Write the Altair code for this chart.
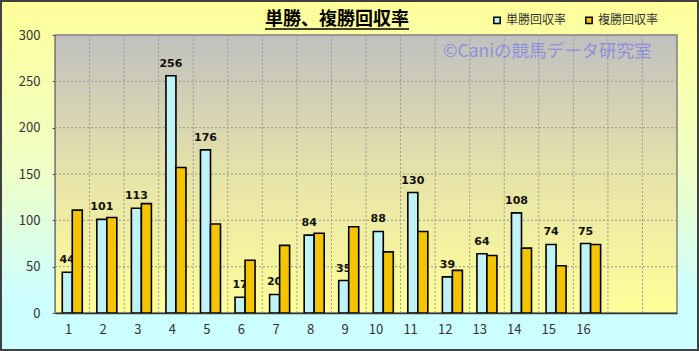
import altair as alt
import pandas as pd

races = list(range(1, 19))
win_return = [44, 101, 113, 256, 176, 17, 20, 84, 35, 88, 130, 39, 64, 108, 74, 75]
place_return = [111, 103, 118, 157, 96, 57, 73, 86, 93, 66, 88, 46, 62, 70, 51, 74]
series = ["単勝回収率", "複勝回収率"]
y_ticks = [0, 50, 100, 150, 200, 250, 300]
title_text = "単勝、複勝回収率"
watermark = "©Caniの競馬データ研究室"

FONT = "Noto Sans CJK JP"
W, H = 622, 278
PL, PT, PR, PB = 55, 35, 22, 38

win_df = pd.DataFrame({"race": races[:len(win_return)], "series": series[0], "value": win_return})
place_df = pd.DataFrame({"race": races[:len(place_return)], "series": series[1], "value": place_return})
vgrid_df = pd.DataFrame({"race": races[1:]})
hgrid_df = pd.DataFrame({"v": y_ticks[1:-1]})

x_enc = alt.X("race:O", scale=alt.Scale(domain=races, paddingInner=0, paddingOuter=0),
              axis=alt.Axis(title=None, labelAngle=0, labelExpr="datum.value > 16 ? '' : datum.label",
                            labelFont=FONT, labelFontSize=13, labelColor="#333333", labelPadding=16,
                            labelBaseline="middle",
                            ticks=False, domainColor="#333333", domainWidth=1.5, grid=False, zindex=1))
y_scale = alt.Scale(domain=[0, 300], nice=False, zero=True)
y_enc = alt.Y("value:Q", scale=y_scale,
              axis=alt.Axis(title=None, values=y_ticks, labelFont=FONT, labelFontSize=13,
                            labelColor="#333333", labelPadding=12, tickSize=3, tickColor="#555555",
                            domainColor="#808080", grid=False, zindex=1))
xoff = alt.XOffset("series:N", scale=alt.Scale(domain=series, paddingInner=0, paddingOuter=0.728))
color_enc = alt.Color("series:N", scale=alt.Scale(domain=series, range=["#BFF3F6", "#F5C400"]),
                      legend=alt.Legend(title=None, orient="none", legendX=436, legendY=-21,
                                        direction="horizontal", symbolType="square", symbolSize=40,
                                        symbolStrokeColor="black", symbolStrokeWidth=1.5,
                                        labelFont=FONT, labelFontSize=12, labelColor="#333333",
                                        columnPadding=15, labelOffset=3))

bg = alt.Chart(pd.DataFrame({"a": [0]})).mark_rect(
    fill=alt.LinearGradient(gradient="linear", x1=0, y1=0, x2=0, y2=1,
                            stops=[alt.GradientStop(color="#FFFF99", offset=0),
                                   alt.GradientStop(color="#EEFFC8", offset=0.5),
                                   alt.GradientStop(color="#CCFFFF", offset=0.85),
                                   alt.GradientStop(color="#CCFFFF", offset=1)]),
    stroke="#404040", strokeWidth=2
).encode(x=alt.value(-PL + 1), x2=alt.value(W + PR - 1), y=alt.value(-PT + 1), y2=alt.value(H + PB - 1))

plot_bg = alt.Chart(pd.DataFrame({"a": [0]})).mark_rect(
    fill=alt.LinearGradient(gradient="linear", x1=0, y1=0, x2=0, y2=1,
                            stops=[alt.GradientStop(color="#C0C0C0", offset=0),
                                   alt.GradientStop(color="#E6E3A8", offset=0.5),
                                   alt.GradientStop(color="#FFFF99", offset=1)]),
    stroke="#808080", strokeWidth=1.5
).encode(x=alt.value(0), x2=alt.value(W), y=alt.value(0), y2=alt.value(H))

vgrid = alt.Chart(vgrid_df).mark_rule(color="#999999", strokeDash=[2, 2], strokeWidth=1).encode(
    x=alt.X("race:O", bandPosition=0, scale=alt.Scale(domain=races, paddingInner=0, paddingOuter=0)))
hgrid = alt.Chart(hgrid_df).mark_rule(color="#999999", strokeDash=[2, 2], strokeWidth=1).encode(
    y=alt.Y("v:Q", scale=y_scale))

win_bars = alt.Chart(win_df).mark_bar(stroke="black", strokeWidth=1.6).encode(
    x=x_enc, xOffset=xoff, y=y_enc, color=color_enc)
labels = alt.Chart(win_df).mark_text(dx=-5, dy=-9, baseline="alphabetic", fontWeight="bold",
                                     fontSize=11, font="DejaVu Sans", color="#111111").encode(
    x=x_enc, y=y_enc, text="value:Q")
place_bars = alt.Chart(place_df).mark_bar(stroke="black", strokeWidth=1.6).encode(
    x=x_enc, xOffset=xoff, y=y_enc, color=color_enc)

wm = alt.Chart(pd.DataFrame({"t": [watermark]})).mark_text(
    align="left", baseline="middle", fontSize=17.5, font=FONT, color="#7070F0", opacity=0.6
).encode(x=alt.value(388), y=alt.value(17), text="t:N")

title = alt.Chart(pd.DataFrame({"t": [title_text]})).mark_text(
    align="left", baseline="alphabetic", fontSize=18, font=FONT, fontWeight="bold", color="black"
).encode(x=alt.value(210), y=alt.value(-10), text="t:N")
underline = alt.Chart(pd.DataFrame({"a": [0]})).mark_rule(color="black", strokeWidth=1.5).encode(
    x=alt.value(210), x2=alt.value(354), y=alt.value(-6))

chart = alt.layer(bg, plot_bg, vgrid, hgrid, win_bars, labels, place_bars, wm, title, underline).properties(
    width=W, height=H,
    padding={"left": PL, "top": PT, "right": PR, "bottom": PB},
    autosize=alt.AutoSizeParams(type="none"),
    background="#CCFFFF",
).configure_view(stroke=None)

chart.save("out.html", embed_options={"renderer": "svg", "actions": False})
